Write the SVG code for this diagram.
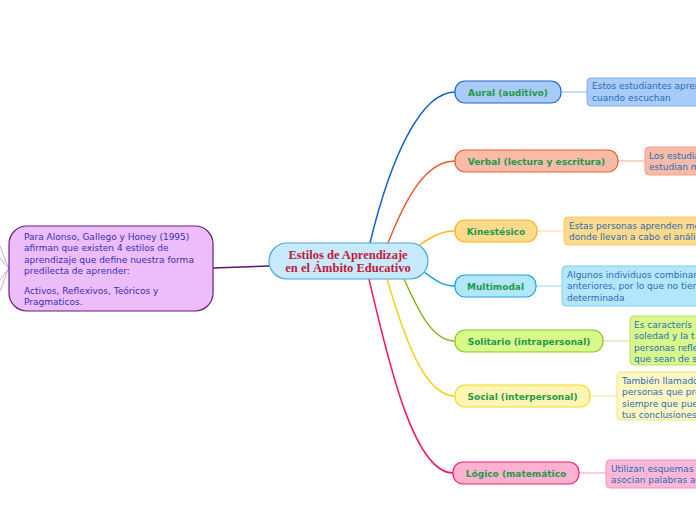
<svg xmlns="http://www.w3.org/2000/svg" width="696" height="520" viewBox="0 0 696 520">
<style>
.lbl{font-family:"DejaVu Sans",Verdana,sans-serif;font-size:9px;font-weight:bold;fill:#1e9a4a;text-anchor:middle}
.det{font-family:"DejaVu Sans",Verdana,sans-serif;font-size:9px;fill:#2a6cb5}
.left{font-family:"DejaVu Sans",Verdana,sans-serif;font-size:9px;fill:#3a30b0}
.ctr{font-family:"Liberation Serif","Times New Roman",serif;font-size:12.5px;font-weight:bold;fill:#c01a3c;text-anchor:middle}
.c{fill:none;stroke-width:1.5}
.t{fill:none;stroke-width:1}
</style>
<rect width="696" height="520" fill="#ffffff"/>
<g id="connectors">
<path class="t" d="M9,268 C5,262 3,252 0,246" stroke="#cfa6dd"/>
<path class="t" d="M9,268 C5,266 3,261 0,258" stroke="#cfa6dd"/>
<path class="t" d="M9,268 C5,272 3,277 0,280" stroke="#cfa6dd"/>
<path class="t" d="M9,268 C5,276 3,285 0,291" stroke="#cfa6dd"/>
<path class="c" d="M213,268 L269,266" stroke="#5c1470"/>
<path class="c" d="M370,243 C390,160 420,92 455,92" stroke="#1462cf"/>
<path class="c" d="M388,243 C405,200 425,161 455,161" stroke="#f0582a"/>
<path class="c" d="M418,246 C430,238 440,231 455,231" stroke="#f9b71c"/>
<path class="c" d="M424,272 C435,280 442,286 455,286" stroke="#17a2e6"/>
<path class="c" d="M404,279 C418,310 432,341 455,341" stroke="#82ba1c"/>
<path class="c" d="M387,279 C405,340 425,396 455,396" stroke="#eed518"/>
<path class="c" d="M369,279 C390,370 415,473 453,473" stroke="#f0186e"/>
<path class="t" d="M561,92 L587,92" stroke="#8ab8f2"/>
<path class="t" d="M618,161 L645,161" stroke="#f6a894"/>
<path class="t" d="M537,231 L564,231" stroke="#fbd98e"/>
<path class="t" d="M536,286 L562,286" stroke="#92d6f6"/>
<path class="t" d="M603,341 L630,341" stroke="#c4e39a"/>
<path class="t" d="M590,396 L617,396" stroke="#f4e68a"/>
<path class="t" d="M579,473 L606,473" stroke="#f59cc0"/>
</g>
<g id="left-node">
<rect x="9" y="226" width="204" height="85" rx="18" fill="#ecbcfb" stroke="#6a1d7c" stroke-width="1.2"/>
<text class="left" x="24" y="240">Para Alonso, Gallego y Honey (1995)</text>
<text class="left" x="24" y="251">afirman que existen 4 estilos de</text>
<text class="left" x="24" y="263">aprendizaje que define nuestra forma</text>
<text class="left" x="24" y="274">predilecta de aprender:</text>
<text class="left" x="24" y="294">Activos, Reflexivos, Teóricos y</text>
<text class="left" x="24" y="305">Pragmaticos.</text>
</g>
<g id="central">
<rect x="269" y="243" width="159" height="36" rx="18" fill="#c6eafb" stroke="#4ca4dd" stroke-width="1.2"/>
<text class="ctr" x="348" y="259">Estilos de Aprendizaje</text>
<text class="ctr" x="348" y="272">en el Ámbito Educativo</text>
</g>
<g id="aural">
<rect x="455" y="81" width="106" height="22" rx="10" fill="#a8cbf9" stroke="#1a64cf" stroke-width="1.2"/>
<text class="lbl" x="508" y="95.5">Aural (auditivo)</text>
</g>
<g id="aural-det">
<rect x="587" y="78" width="120" height="28" rx="4" fill="#a8cbf9" stroke="#7cb0f0"/>
<text class="det" x="592" y="89">Estos estudiantes apren</text>
<text class="det" x="592" y="100.5">cuando escuchan</text>
</g>
<g id="verbal">
<rect x="455" y="150" width="163" height="22" rx="10" fill="#f8bba8" stroke="#f05a2a" stroke-width="1.2"/>
<text class="lbl" x="536.5" y="164.5">Verbal (lectura y escritura)</text>
</g>
<g id="verbal-det">
<rect x="645" y="147" width="60" height="28" rx="4" fill="#f8bba8" stroke="#f5a08a"/>
<text class="det" x="649" y="158.5">Los estudia</text>
<text class="det" x="649" y="170">estudian m</text>
</g>
<g id="kinestesico">
<rect x="455" y="220" width="82" height="22" rx="10" fill="#fdd98c" stroke="#f7b21b" stroke-width="1.2"/>
<text class="lbl" x="496" y="234.5">Kinestésico</text>
</g>
<g id="kinestesico-det">
<rect x="564" y="217" width="140" height="28" rx="4" fill="#fdd98c" stroke="#f7c96a"/>
<text class="det" x="569" y="228.5">Estas personas aprenden me</text>
<text class="det" x="569" y="240">donde llevan a cabo el análi</text>
</g>
<g id="multimodal">
<rect x="455" y="275" width="81" height="22" rx="10" fill="#b4e6fb" stroke="#1aa3e8" stroke-width="1.2"/>
<text class="lbl" x="495.5" y="289.5">Multimodal</text>
</g>
<g id="multimodal-det">
<rect x="562" y="266" width="142" height="40" rx="4" fill="#b4e6fb" stroke="#7fcdf2"/>
<text class="det" x="567" y="277.5">Algunos individuos combinar</text>
<text class="det" x="567" y="289">anteriores, por lo que no tien</text>
<text class="det" x="567" y="300.5">determinada</text>
</g>
<g id="solitario">
<rect x="455" y="330" width="148" height="22" rx="10" fill="#d8f88c" stroke="#8cc41e" stroke-width="1.2"/>
<text class="lbl" x="529" y="344.5">Solitario (intrapersonal)</text>
</g>
<g id="solitario-det">
<rect x="630" y="316" width="74" height="49" rx="4" fill="#d8f88c" stroke="#b8e06a"/>
<text class="det" x="634" y="327.5">Es caracterís</text>
<text class="det" x="634" y="339">soledad y la t</text>
<text class="det" x="634" y="350.5">personas refle</text>
<text class="det" x="634" y="362">que sean de s</text>
</g>
<g id="social">
<rect x="455" y="385" width="135" height="22" rx="10" fill="#fff5b2" stroke="#efda22" stroke-width="1.2"/>
<text class="lbl" x="522.5" y="399.5">Social (interpersonal)</text>
</g>
<g id="social-det">
<rect x="617" y="372" width="88" height="48" rx="4" fill="#fff7c2" stroke="#f5e47c"/>
<text class="det" x="622" y="383.5">También llamado</text>
<text class="det" x="622" y="395">personas que pre</text>
<text class="det" x="622" y="406.5">siempre que pue</text>
<text class="det" x="622" y="418">tus conclusiones</text>
</g>
<g id="logico">
<rect x="453" y="462" width="126" height="22" rx="10" fill="#fcb1d1" stroke="#f01a70" stroke-width="1.2"/>
<text class="lbl" x="516" y="476.5">Lógico (matemático</text>
</g>
<g id="logico-det">
<rect x="606" y="460" width="98" height="28" rx="4" fill="#fcb8d6" stroke="#f592bb"/>
<text class="det" x="611" y="471.5">Utilizan esquemas</text>
<text class="det" x="611" y="483">asocian palabras au</text>
</g>
</svg>
